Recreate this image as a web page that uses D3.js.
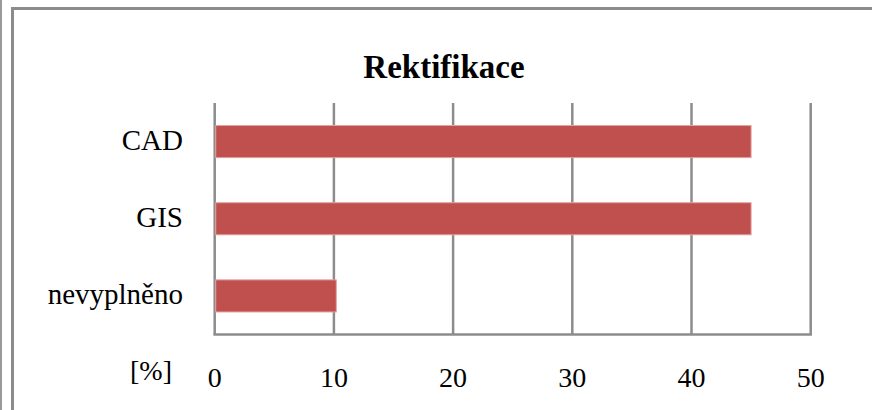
<!DOCTYPE html>
<html>
<head>
<meta charset="utf-8">
<script src="https://cdn.jsdelivr.net/npm/d3@7"></script>
<style>
  html, body { margin: 0; padding: 0; background: #fff; }
  svg { display: block; }
</style>
</head>
<body>
<svg id="chart" width="872" height="410"></svg>
<script>
const title = "Rektifikace";
const categories = ["CAD", "GIS", "nevyplněno"];
const values = [45, 45, 10.2];
const xTicks = [0, 10, 20, 30, 40, 50];
const unitLabel = "[%]";

const svg = d3.select("#chart");
const W = 872, H = 410;
const grey = "#8c8c8c";
const serif = "'Liberation Serif'";

// frame lines
svg.append("line").attr("x1", 1).attr("x2", 1).attr("y1", 0).attr("y2", H)
  .attr("stroke", "#9a9a9a").attr("stroke-width", 2);
svg.append("line").attr("x1", 12.5).attr("x2", 12.5).attr("y1", 7).attr("y2", H)
  .attr("stroke", grey).attr("stroke-width", 3);
svg.append("line").attr("x1", 11).attr("x2", W).attr("y1", 8.5).attr("y2", 8.5)
  .attr("stroke", grey).attr("stroke-width", 3);

const plotLeft = 214.7, plotRight = 810.7, plotTop = 103, plotBottom = 334.5;

const x = d3.scaleLinear().domain([0, 50]).range([plotLeft, plotRight]);
const y = d3.scaleBand().domain(categories).range([plotTop, plotBottom])
  .paddingInner(0.584).paddingOuter(0.292);

// title
svg.append("text").attr("x", 444).attr("y", 78)
  .attr("text-anchor", "middle")
  .style("font-family", serif).style("font-weight", "bold").style("font-size", "33px")
  .text(title);

// gridlines
svg.append("g").selectAll("line").data(xTicks).join("line")
  .attr("x1", d => x(d)).attr("x2", d => x(d))
  .attr("y1", plotTop).attr("y2", plotBottom)
  .attr("stroke", grey).attr("stroke-width", 2.5);

// bottom axis line
svg.append("line").attr("x1", x(0) - 1.25).attr("x2", x(50) + 1.25)
  .attr("y1", plotBottom).attr("y2", plotBottom)
  .attr("stroke", grey).attr("stroke-width", 2.5);

// bars
svg.append("g").selectAll("rect").data(categories).join("rect")
  .attr("x", x(0) + 1)
  .attr("y", d => y(d))
  .attr("width", (d, i) => x(values[i]) - x(0) - 1)
  .attr("height", y.bandwidth())
  .attr("fill", "#C0504D")
  .attr("stroke", "#E3A3A1").attr("stroke-width", 1);

// category labels
svg.append("g").selectAll("text").data(categories).join("text")
  .attr("x", 183)
  .attr("y", d => y(d) + y.bandwidth() / 2 + 8)
  .attr("text-anchor", "end")
  .style("font-family", serif).style("font-size", "29px")
  .text(d => d);

// tick labels
svg.append("g").selectAll("text").data(xTicks).join("text")
  .attr("x", d => x(d))
  .attr("y", 387)
  .attr("text-anchor", "middle")
  .style("font-family", serif).style("font-size", "28px")
  .text(d => d);

// unit label
svg.append("text").attr("x", 151).attr("y", 380)
  .attr("text-anchor", "middle")
  .style("font-family", serif).style("font-size", "28px")
  .text(unitLabel);
</script>
</body>
</html>
